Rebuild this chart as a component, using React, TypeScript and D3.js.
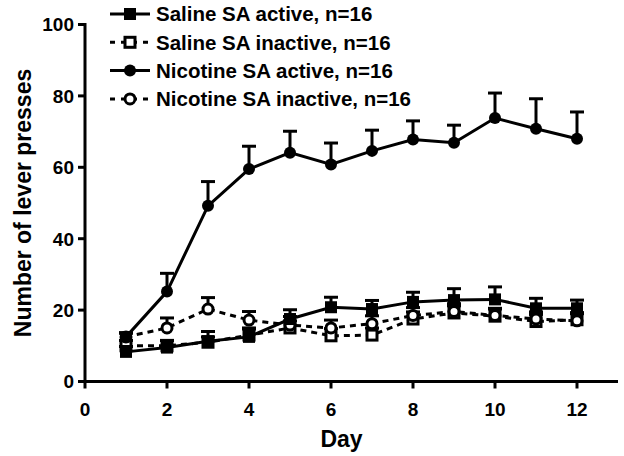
import React from "react";
import * as d3 from "d3";

const days = [1, 2, 3, 4, 5, 6, 7, 8, 9, 10, 11, 12];
const salineActive = [8.3, 9.5, 11.3, 12.5, 17.5, 20.8, 20.3, 22.3, 22.8, 23.0, 20.5, 20.5];
const salineActiveErr = [1.5, 2.0, 2.7, 2.2, 2.6, 2.8, 2.4, 2.7, 3.2, 3.5, 2.8, 2.3];
const salineInactive = [10.0, 10.0, 11.0, 13.0, 15.0, 12.8, 13.0, 17.5, 19.2, 18.3, 16.8, 17.3];
const salineInactiveErr = [1.5, 1.5, 1.5, 2.0, 2.0, 2.0, 2.0, 2.0, 2.0, 2.0, 2.0, 2.0];
const nicotineActive = [12.5, 25.2, 49.2, 59.5, 64.1, 60.8, 64.6, 67.8, 66.9, 73.8, 70.8, 68.0];
const nicotineActiveErr = [1.2, 5.1, 6.8, 6.4, 6.0, 6.0, 5.8, 5.2, 4.9, 7.0, 8.4, 7.5];
const nicotineInactive = [12.5, 15.0, 20.3, 17.2, 15.8, 15.0, 16.2, 18.5, 19.6, 18.5, 17.5, 17.0];
const nicotineInactiveErr = [1.0, 2.8, 3.2, 2.4, 2.4, 2.2, 2.2, 2.2, 2.2, 2.0, 2.0, 2.0];
const xTicks = [0, 2, 4, 6, 8, 10, 12];
const yTicks = [0, 20, 40, 60, 80, 100];
const legendLabels = [
  "Saline SA active, n=16",
  "Saline SA inactive, n=16",
  "Nicotine SA active, n=16",
  "Nicotine SA inactive, n=16",
];

type Series = {
  values: number[];
  errs: number[];
  marker: "square" | "circle";
  filled: boolean;
  dashed: boolean;
};

const series: Series[] = [
  { values: salineInactive, errs: salineInactiveErr, marker: "square", filled: false, dashed: true },
  { values: nicotineInactive, errs: nicotineInactiveErr, marker: "circle", filled: false, dashed: true },
  { values: salineActive, errs: salineActiveErr, marker: "square", filled: true, dashed: false },
  { values: nicotineActive, errs: nicotineActiveErr, marker: "circle", filled: true, dashed: false },
];
const legendSeries = [series[2], series[0], series[3], series[1]];

const FONT = "'Liberation Sans', Arial, sans-serif";

function Marker({ cx, cy, s }: { cx: number; cy: number; s: Series }) {
  const fill = s.filled ? "#000" : "#fff";
  if (s.marker === "square") {
    const h = s.filled ? 6 : 5;
    return (
      <rect x={cx - h} y={cy - h} width={2 * h} height={2 * h} fill={fill}
        stroke="#000" strokeWidth={s.filled ? 0 : 3} />
    );
  }
  return <circle cx={cx} cy={cy} r={s.filled ? 6 : 5} fill={fill} stroke="#000" strokeWidth={s.filled ? 0 : 3} />;
}

export default function App() {
  const W = 624, H = 456;
  const x = d3.scaleLinear().domain([0, 13]).range([85, 618]);
  const y = d3.scaleLinear().domain([0, 100]).range([381.5, 24.5]);
  const line = d3.line<number>().x((_, i) => x(days[i])).y((v) => y(v));

  return (
    <svg width={W} height={H} style={{ position: "absolute", left: 0, top: 0, background: "#fff" }}
      fontFamily={FONT} fontWeight="bold">
      <rect width={W} height={H} fill="#fff" />
      {/* axes */}
      <line x1={x(0)} x2={x(0)} y1={y(100) - 1.5} y2={y(0) + 1.5} stroke="#000" strokeWidth={3} />
      <line x1={x(0) - 1.5} x2={x(13)} y1={y(0)} y2={y(0)} stroke="#000" strokeWidth={3} />
      {yTicks.map((t) => (
        <g key={"y" + t}>
          <line x1={x(0) - 7} x2={x(0)} y1={y(t)} y2={y(t)} stroke="#000" strokeWidth={3} />
          <text x={x(0) - 11} y={y(t)} dy="0.36em" textAnchor="end" fontSize={19}>{t}</text>
        </g>
      ))}
      {xTicks.map((t) => (
        <g key={"x" + t}>
          <line x1={x(t)} x2={x(t)} y1={y(0)} y2={y(0) + 7} stroke="#000" strokeWidth={3} />
          <text x={x(t)} y={y(0) + 34} textAnchor="middle" fontSize={19}>{t}</text>
        </g>
      ))}
      <text x={x(6.5) - 10} y={447} textAnchor="middle" fontSize={23}>Day</text>
      <text transform={`translate(31,${y(50)}) rotate(-90)`} textAnchor="middle" fontSize={23}>
        Number of lever presses
      </text>

      {/* series */}
      {series.map((s, si) => (
        <g key={"s" + si}>
          {s.values.map((v, i) => (
            <g key={i}>
              <line x1={x(days[i])} x2={x(days[i])} y1={y(v)} y2={y(v + s.errs[i])} stroke="#000" strokeWidth={3} />
              <line x1={x(days[i]) - 7} x2={x(days[i]) + 7} y1={y(v + s.errs[i])} y2={y(v + s.errs[i])} stroke="#000" strokeWidth={3} />
            </g>
          ))}
          <path d={line(s.values) || ""} fill="none" stroke="#000" strokeWidth={3}
            strokeDasharray={s.dashed ? "6,5" : undefined} />
          {s.values.map((v, i) => (
            <Marker key={"m" + i} cx={x(days[i])} cy={y(v)} s={s} />
          ))}
        </g>
      ))}

      {/* legend */}
      {legendSeries.map((s, i) => {
        const cy = 14 + i * 28.3;
        return (
          <g key={"l" + i}>
            <line x1={110} x2={150} y1={cy} y2={cy} stroke="#000" strokeWidth={3}
              strokeDasharray={s.dashed ? "5,6" : undefined} />
            <Marker cx={130} cy={cy} s={s} />
            <text x={156} y={cy} dy="0.36em" fontSize={20.5}>{legendLabels[i]}</text>
          </g>
        );
      })}
    </svg>
  );
}
